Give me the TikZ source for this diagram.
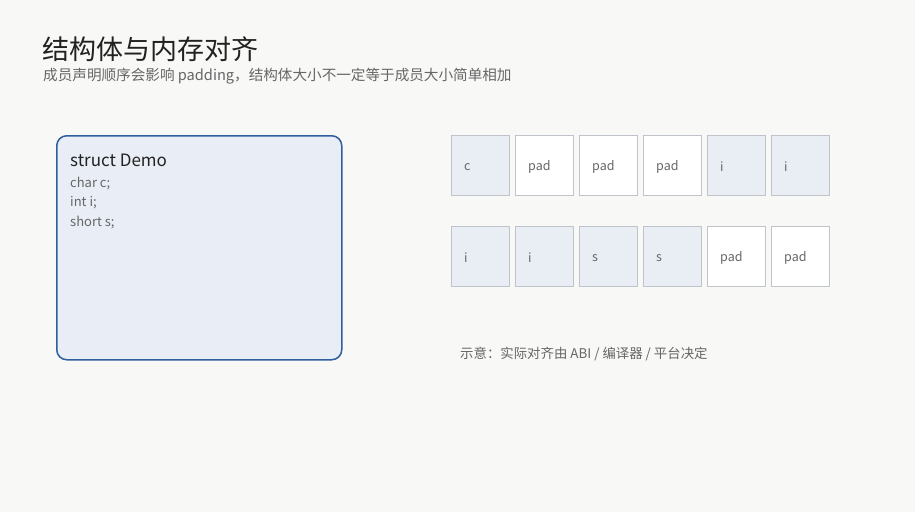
\documentclass[tikz,border=0pt]{standalone}
\usepackage{fontspec}
\setmainfont{Noto Sans CJK SC}
\definecolor{bg}{HTML}{F8F8F7}
\definecolor{titlec}{HTML}{222222}
\definecolor{subc}{HTML}{666666}
\definecolor{cellfill}{HTML}{E9EEF5}
\definecolor{cellline}{HTML}{BFC4CA}
\definecolor{boxline}{HTML}{2F5F9E}
\definecolor{boxfill}{HTML}{E9EEF6}
\begin{document}
\begin{tikzpicture}[x=1pt,y=-1pt,
  cell/.style={draw=cellline,line width=1pt,minimum width=58pt,minimum height=60pt,inner sep=0pt,anchor=north west,text=subc,font=\fontsize{12.5}{14}\selectfont},
  used/.style={cell,fill=cellfill},
  padc/.style={cell,fill=white},
  lbl/.style={anchor=west,inner sep=0pt,text=subc,font=\fontsize{12.5}{14}\selectfont},
  codeline/.style={anchor=west,inner sep=0pt,text=subc,font=\fontsize{13}{15}\selectfont}]
\fill[bg] (0,0) rectangle (915,512);
\useasboundingbox (0,0) rectangle (915,512);
\node[anchor=base west,inner sep=0pt,text=titlec,font=\fontsize{27}{31}\selectfont] (title) at (42,59) {结构体与内存对齐};
\node[anchor=base west,inner sep=0pt,text=subc,font=\fontsize{14.6}{17}\selectfont] (sub) at (43,80) {成员声明顺序会影响 padding，结构体大小不一定等于成员大小简单相加};
\node[draw=boxline,fill=boxfill,line width=1.5pt,rounded corners=10pt,minimum width=285pt,minimum height=224pt,anchor=north west,inner sep=0pt] (demo) at (56,135) {};
\node[anchor=west,inner sep=0pt,text=titlec,font=\fontsize{17}{20}\selectfont] (dname) at (70,160) {struct Demo};
\node[codeline] (l1) at (70,184) {char c;};
\node[codeline] (l2) at (70,203) {int i;};
\node[codeline] (l3) at (70,223) {short s;};
\foreach \i/\t/\s in {0/c/used,1/pad/padc,2/pad/padc,3/pad/padc,4/i/used,5/i/used}{
  \node[\s] (a\i) at (451+64*\i,135) {};
  \node[lbl] (at\i) at (464+64*\i,167) {\t};
}
\foreach \i/\t/\s in {0/i/used,1/i/used,2/s/used,3/s/used,4/pad/padc,5/pad/padc}{
  \node[\s] (b\i) at (451+64*\i,226) {};
  \node[lbl] (bt\i) at (464+64*\i,258) {\t};
}
\node[anchor=west,inner sep=0pt,text=subc,font=\fontsize{13.4}{15}\selectfont] (note) at (460,354) {示意：实际对齐由 ABI / 编译器 / 平台决定};
\end{tikzpicture}
\end{document}
